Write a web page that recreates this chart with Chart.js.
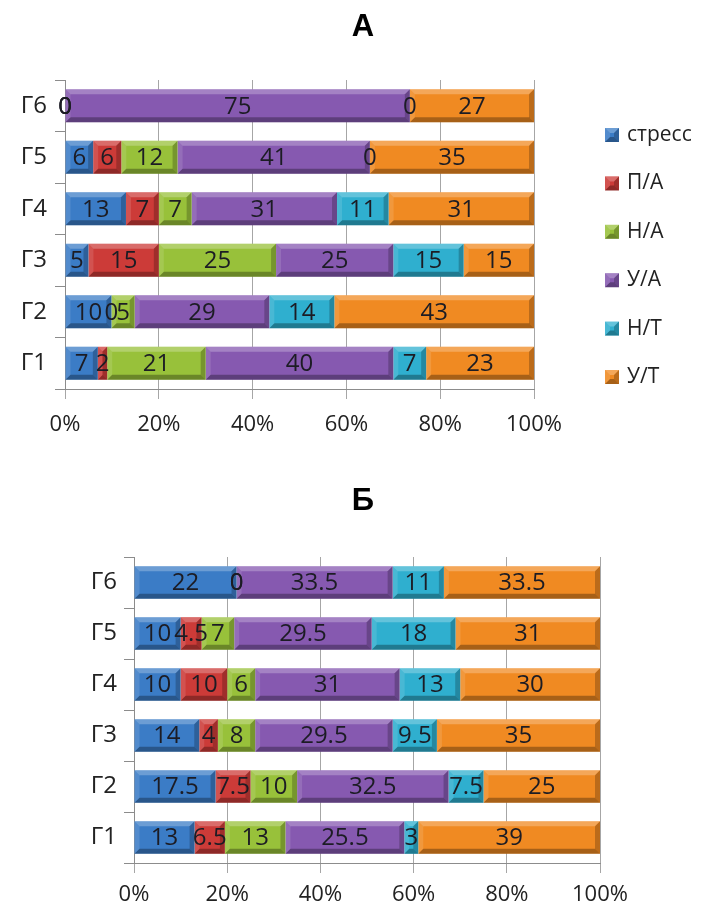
<!DOCTYPE html>
<html><head><meta charset="utf-8">
<script src="https://cdn.jsdelivr.net/npm/chart.js@4.4.1/dist/chart.umd.min.js"></script>
<style>
html,body{margin:0;padding:0;background:#fff;}
#wa{position:absolute;left:0;top:0;width:702px;height:460px;}
#wb{position:absolute;left:0;top:460px;width:702px;height:449px;}
</style></head><body>
<div id="wa"><canvas id="ca"></canvas></div>
<div id="wb"><canvas id="cb"></canvas></div>
<script>
// ---- data ----
const categories = ['Г1','Г2','Г3','Г4','Г5','Г6'];
const seriesNames = ['стресс','П/А','Н/А','У/А','Н/Т','У/Т'];
const tickLabels = ['0%','20%','40%','60%','80%','100%'];

// Chart А (values for Г1..Г6)
const a_stress = [7, 10, 5, 13, 6, 0];
const a_PA     = [2, 0, 15, 7, 6, 0];
const a_NA     = [21, 5, 25, 7, 12, 0];
const a_UA     = [40, 29, 25, 31, 41, 75];
const a_NT     = [7, 14, 15, 11, 0, 0];
const a_UT     = [23, 43, 15, 31, 35, 27];

// Chart Б (values for Г1..Г6)
const b_stress = [13, 17.5, 14, 10, 10, 22];
const b_PA     = [6.5, 7.5, 4, 10, 4.5, 0];
const b_NA     = [13, 10, 8, 6, 7, 0];
const b_UA     = [25.5, 32.5, 29.5, 31, 29.5, 33.5];
const b_NT     = [3, 7.5, 9.5, 13, 18, 11];
const b_UT     = [39, 25, 35, 30, 31, 33.5];

const seriesColors = ['#3B7CC6','#CC3B38','#98C13A','#8659B0','#2FAFCF','#F08A22'];
const FONT = "'Open Sans', 'Liberation Sans', sans-serif";

function buildDatasets(series) {
  const totals = categories.map((c, i) => series.reduce((s, arr) => s + arr[i], 0));
  return series.map((arr, k) => ({
    label: seriesNames[k],
    data: arr.map((v, i) => v / totals[i] * 100),
    raw: arr,
    backgroundColor: seriesColors[k],
    borderWidth: 0,
    barPercentage: 0.64,
    categoryPercentage: 1.0
  }));
}

function bevelRect(ctx, x0, y0, x1, y1) {
  const w = x1 - x0, h = y1 - y0;
  const b = Math.min(5, w / 2, h / 2);
  if (w <= 0) return;
  ctx.save();
  ctx.fillStyle = 'rgba(255,255,255,0.25)';
  ctx.beginPath(); ctx.moveTo(x0, y0); ctx.lineTo(x1, y0); ctx.lineTo(x1 - b, y0 + b); ctx.lineTo(x0 + b, y0 + b); ctx.closePath(); ctx.fill();
  ctx.fillStyle = 'rgba(0,0,0,0.30)';
  ctx.beginPath(); ctx.moveTo(x0, y1); ctx.lineTo(x1, y1); ctx.lineTo(x1 - b, y1 - b); ctx.lineTo(x0 + b, y1 - b); ctx.closePath(); ctx.fill();
  ctx.fillStyle = 'rgba(255,255,255,0.12)';
  ctx.beginPath(); ctx.moveTo(x0, y0); ctx.lineTo(x0 + b, y0 + b); ctx.lineTo(x0 + b, y1 - b); ctx.lineTo(x0, y1); ctx.closePath(); ctx.fill();
  ctx.fillStyle = 'rgba(0,0,0,0.22)';
  ctx.beginPath(); ctx.moveTo(x1, y0); ctx.lineTo(x1 - b, y0 + b); ctx.lineTo(x1 - b, y1 - b); ctx.lineTo(x1, y1); ctx.closePath(); ctx.fill();
  ctx.restore();
}

const barDecor = {
  id: 'barDecor',
  afterDatasetsDraw(chart) {
    const ctx = chart.ctx;
    chart.data.datasets.forEach((ds, di) => {
      const meta = chart.getDatasetMeta(di);
      meta.data.forEach(el => {
        const p = el.getProps(['x','y','base','height'], true);
        const x0 = Math.min(p.x, p.base), x1 = Math.max(p.x, p.base);
        bevelRect(ctx, x0, p.y - p.height / 2, x1, p.y + p.height / 2);
      });
    });
    ctx.save();
    ctx.font = '24px ' + FONT;
    ctx.fillStyle = '#1c1c24';
    ctx.textAlign = 'center';
    ctx.textBaseline = 'middle';
    chart.data.datasets.forEach((ds, di) => {
      const meta = chart.getDatasetMeta(di);
      meta.data.forEach((el, i) => {
        const p = el.getProps(['x','y','base'], true);
        ctx.fillText(String(ds.raw[i]), (p.x + p.base) / 2, p.y + 1);
      });
    });
    ctx.restore();
  }
};

const extras = {
  id: 'extras',
  afterDraw(chart, args, opts) {
    const ctx = chart.ctx;
    ctx.save();
    ctx.font = "bold 31px 'Liberation Sans', Arial, sans-serif";
    ctx.fillStyle = '#000';
    ctx.textAlign = 'center';
    ctx.textBaseline = 'middle';
    ctx.fillText(opts.title, opts.titleX, opts.titleY);
    if (opts.legend) {
      const L = opts.legend;
      ctx.font = '21px ' + FONT;
      ctx.textAlign = 'left';
      chart.data.datasets.forEach((ds, i) => {
        const cy = L.top + i * L.step;
        ctx.fillStyle = ds.backgroundColor;
        ctx.fillRect(L.x, cy - 7, 14, 14);
        bevelRect(ctx, L.x, cy - 7, L.x + 14, cy + 7);
        ctx.fillStyle = '#222';
        ctx.fillText(ds.label, L.x + 22, cy);
      });
    }
    ctx.restore();
  }
};

function makeChart(id, series, cfg) {
  return new Chart(document.getElementById(id), {
    type: 'bar',
    data: { labels: categories, datasets: buildDatasets(series) },
    plugins: [barDecor, extras],
    options: {
      indexAxis: 'y',
      responsive: true,
      maintainAspectRatio: false,
      animation: false,
      layout: { padding: { left: 0, right: cfg.right, top: cfg.top, bottom: 0 } },
      plugins: {
        legend: { display: false },
        tooltip: { enabled: false },
        title: { display: false },
        extras: { title: cfg.title, titleX: 363, titleY: cfg.titleY, legend: cfg.legend }
      },
      scales: {
        x: {
          stacked: true, min: 0, max: 100,
          ticks: { stepSize: 20, callback: (v, i) => tickLabels[i], font: { family: FONT, size: 22 }, color: '#222', padding: cfg.xPad },
          grid: { color: '#a6a6a6', tickLength: 10, drawTicks: true },
          border: { display: true, color: '#8c8c8c' },
          afterFit: s => { s.height = cfg.xHeight; }
        },
        y: {
          stacked: true, reverse: true,
          ticks: { font: { family: FONT, size: 24 }, color: '#222', padding: cfg.yPad },
          grid: { drawOnChartArea: false, drawTicks: true, tickLength: 10, color: '#8c8c8c', offset: true },
          border: { display: true, color: '#8c8c8c' },
          afterFit: s => { s.width = cfg.yWidth; }
        }
      }
    }
  });
}

makeChart('ca', [a_stress, a_PA, a_NA, a_UA, a_NT, a_UT], {
  title: 'А', titleY: 27, right: 168, top: 80, xHeight: 71, xPad: 13, yWidth: 65, yPad: 8,
  legend: { x: 605, top: 135, step: 48.4 }
});
makeChart('cb', [b_stress, b_PA, b_NA, b_UA, b_NT, b_UT], {
  title: 'Б', titleY: 41, right: 102, top: 97, xHeight: 46, xPad: 9, yWidth: 134, yPad: 7,
  legend: null
});
</script>
</body></html>
